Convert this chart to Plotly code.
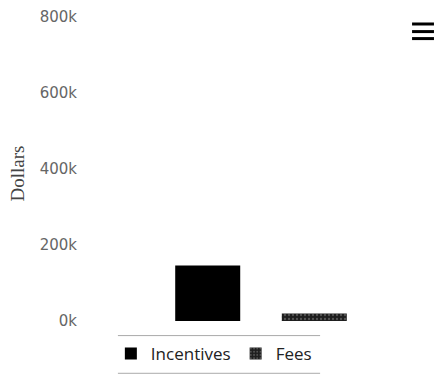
import plotly.graph_objects as go

# Funding breakdown (dollars)
series_names = ["Incentives", "Fees"]
series_values = [146000, 20000]
category = [""]

# Y axis ticks
tick_values = [0, 200000, 400000, 600000, 800000]
tick_labels = ["0k", "200k", "400k", "600k", "800k"]

fig = go.Figure()

fig.add_trace(go.Bar(
    name=series_names[0],
    x=category,
    y=[series_values[0]],
    marker=dict(color="#000000", line=dict(width=0)),
))
fig.add_trace(go.Bar(
    name=series_names[1],
    x=category,
    y=[series_values[1]],
    marker=dict(
        color="#222222",
        line=dict(width=0),
        pattern=dict(shape=".", fgcolor="#8a8a8a", bgcolor="#1e1e1e", size=4, solidity=0.25),
    ),
))

# Legend frame (top and bottom rules only)
for yy in (-0.048, -0.172):
    fig.add_shape(type="line", xref="paper", yref="paper",
                  x0=0.069, x1=0.678, y0=yy, y1=yy,
                  line=dict(color="#aaaaaa", width=1))

# Menu (hamburger) icon
for yy in (0.977, 0.952, 0.929):
    fig.add_shape(type="line", xref="paper", yref="paper",
                  x0=0.955, x1=1.021, y0=yy, y1=yy,
                  line=dict(color="#000000", width=3))

# Y axis title
fig.add_annotation(
    text="Dollars", xref="paper", yref="paper",
    x=-0.232, y=0.485, xanchor="center", yanchor="middle",
    textangle=-90, showarrow=False,
    font=dict(family="Liberation Serif", size=19, color="#444444"),
)

fig.update_layout(
    width=435, height=380,
    margin=dict(l=95, r=8, t=13, b=56),
    paper_bgcolor="white",
    plot_bgcolor="white",
    barmode="group",
    bargap=0.358,
    bargroupgap=0.39,
    showlegend=True,
    legend=dict(
        orientation="h",
        x=0.358, xanchor="center",
        y=-0.108, yanchor="middle",
        font=dict(family="Open Sans", size=17, color="#222222"),
        bgcolor="rgba(0,0,0,0)",
        itemsizing="constant",
    ),
    xaxis=dict(visible=False),
    yaxis=dict(
        range=[0, 800000],
        tickvals=tick_values,
        ticktext=tick_labels,
        showgrid=False,
        zeroline=False,
        showline=False,
        ticks="",
        ticklabelstandoff=17,
        tickfont=dict(family="DejaVu Sans", size=15, color="#666666"),
    ),
)

fig.write_html("out.html")
